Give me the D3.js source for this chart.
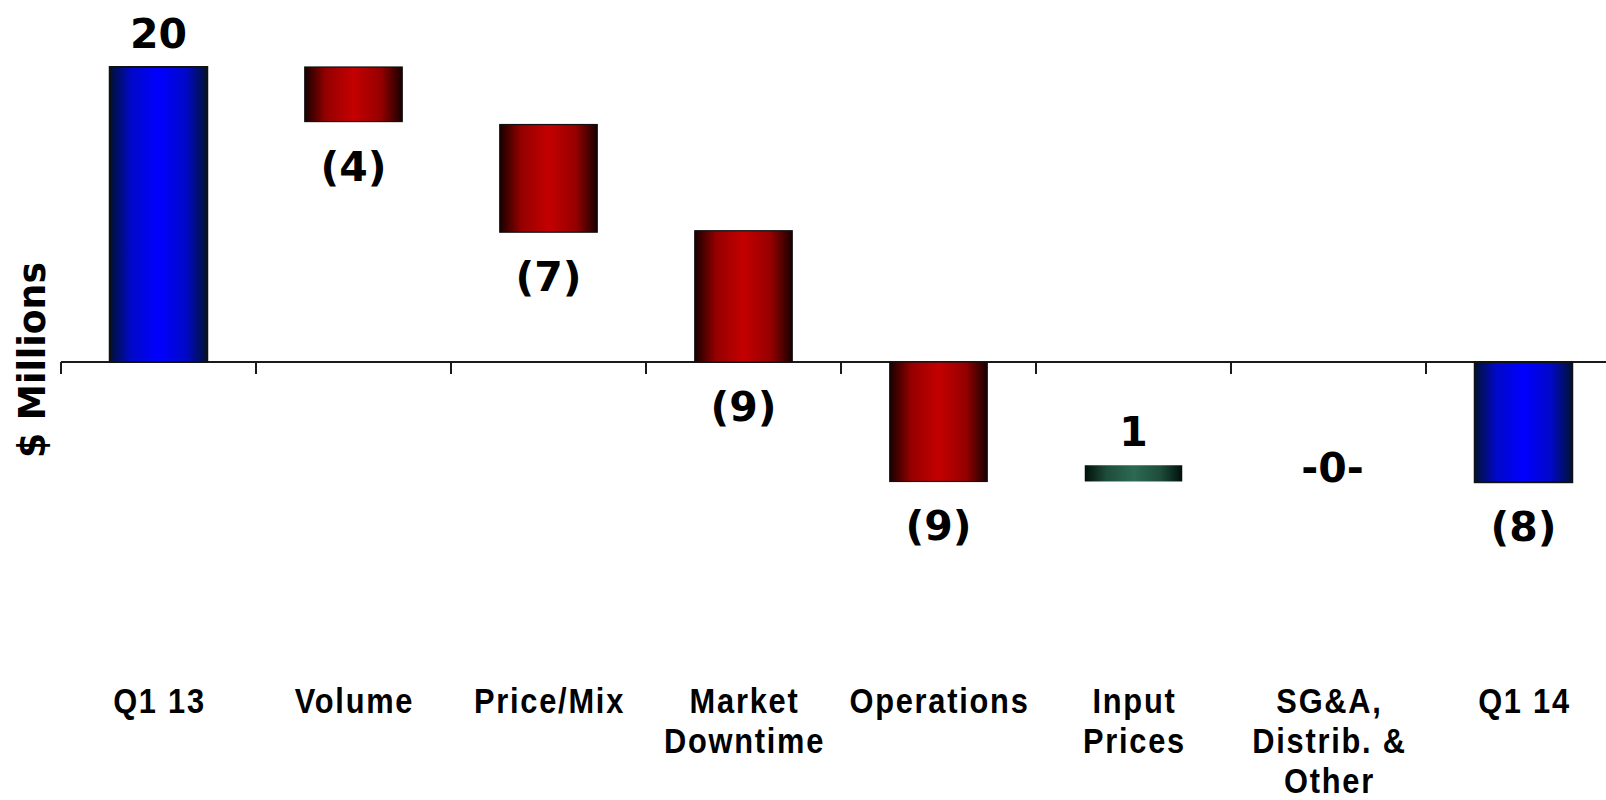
<!DOCTYPE html>
<html>
<head>
<meta charset="utf-8">
<script src="https://cdn.jsdelivr.net/npm/d3@7"></script>
<style>
  html, body { margin: 0; padding: 0; background: #fff; }
  svg { display: block; }
</style>
</head>
<body>
<svg id="chart" width="1606" height="800"></svg>
<script>
// ---- data ----
const categories = ["Q1 13", "Volume", "Price/Mix", "Market Downtime", "Operations", "Input Prices", "SG&A, Distrib. & Other", "Q1 14"];
const categoryLines = [["Q1 13"], ["Volume"], ["Price/Mix"], ["Market", "Downtime"], ["Operations"], ["Input", "Prices"], ["SG&A,", "Distrib. &", "Other"], ["Q1 14"]];
const barStart = [0, 20, 16.1, 8.9, 0, -8.1, -7.0, 0];
const barEnd   = [20, 16.3, 8.8, 0, -8.1, -7.0, -7.0, -8.15];
const barKind  = ["total", "decrease", "decrease", "decrease", "decrease", "increase", "none", "total"];
const valueLabels = ["20", "(4)", "(7)", "(9)", "(9)", "1", "-0-", "(8)"];
const yAxisTitle = "$ Millions";

// ---- drawing ----
const svg = d3.select("#chart");
const defs = svg.append("defs");

function grad(id, edge, mid, center) {
  const g = defs.append("linearGradient").attr("id", id)
    .attr("x1", "0%").attr("x2", "100%").attr("y1", "0%").attr("y2", "0%");
  [[0, edge], [0.22, mid], [0.5, center], [0.78, mid], [1, edge]].forEach(([o, c]) =>
    g.append("stop").attr("offset", o).attr("stop-color", c));
}
grad("g-total", "#001232", "#0008c8", "#0000ff");
grad("g-decrease", "#180000", "#960000", "#c40000");
grad("g-increase", "#00100a", "#1d4c3a", "#2c6a52");

const x = d3.scaleBand().domain(categories).range([61, 1621]).paddingInner(0.5).paddingOuter(0.25);
const y = d3.scaleLinear().domain([-20, 20]).range([657, 67]);

// axis line + ticks at band boundaries
const step = x.step();
const boundaries = d3.range(categories.length).map(i => x.range()[0] + i * step);
svg.append("line")
  .attr("x1", x.range()[0]).attr("x2", 1606)
  .attr("y1", y(0)).attr("y2", y(0))
  .attr("stroke", "#1a1a1a").attr("stroke-width", 2);
svg.selectAll("line.tick").data(boundaries).enter().append("line")
  .attr("class", "tick")
  .attr("x1", d => d).attr("x2", d => d)
  .attr("y1", y(0)).attr("y2", y(0) + 12)
  .attr("stroke", "#1a1a1a").attr("stroke-width", 2);

// bars
const data = categories.map((c, i) => ({ c, s: barStart[i], e: barEnd[i], k: barKind[i], lab: valueLabels[i], lines: categoryLines[i] }));
svg.selectAll("rect.bar").data(data.filter(d => d.k !== "none")).enter().append("rect")
  .attr("class", "bar")
  .attr("x", d => x(d.c))
  .attr("width", x.bandwidth())
  .attr("y", d => y(Math.max(d.s, d.e)))
  .attr("height", d => Math.abs(y(d.s) - y(d.e)))
  .attr("fill", d => `url(#g-${d.k})`)
  .attr("stroke", d => d.k === "increase" ? "none" : "#111")
  .attr("stroke-width", d => d.k === "total" ? 2 : 1.2);

// value labels
svg.selectAll("text.val").data(data).enter().append("text")
  .attr("class", "val")
  .attr("x", d => x(d.c) + x.bandwidth() / 2 + (d.k === "none" ? 4 : 0))
  .attr("y", d => {
    if (d.k === "none") return y(d.e) + 17;
    const up = d.e > d.s;
    if (up) return y(Math.max(d.s, d.e)) - 19;
    return y(Math.min(d.s, d.e)) + 59;
  })
  .attr("text-anchor", "middle")
  .attr("font-family", "'DejaVu Sans', Verdana, sans-serif")
  .attr("font-weight", "bold")
  .attr("font-size", 41)
  .attr("fill", "#000")
  .text(d => d.lab);

// category labels (narrow bold look)
const cat = svg.selectAll("g.cat").data(data).enter().append("g")
  .attr("class", "cat")
  .attr("transform", d => `translate(${x(d.c) + x.bandwidth() / 2 + 1},713) scale(0.88,1)`);
cat.each(function(d) {
  const g = d3.select(this);
  d.lines.forEach((ln, j) => {
    g.append("text")
      .attr("y", j * 40)
      .attr("text-anchor", "middle")
      .attr("font-family", "'Liberation Sans', Arial, sans-serif")
      .attr("font-weight", "bold")
      .attr("font-size", 35)
      .attr("letter-spacing", 2)
      .attr("fill", "#000")
      .text(ln);
  });
});

// y axis title
svg.append("text")
  .attr("transform", `translate(45,360) rotate(-90)`)
  .attr("text-anchor", "middle")
  .attr("font-family", "'DejaVu Sans', Verdana, sans-serif")
  .attr("font-weight", "bold")
  .attr("font-size", 37)
  .attr("textLength", 196)
  .attr("lengthAdjust", "spacingAndGlyphs")
  .attr("fill", "#000")
  .text(yAxisTitle);
</script>
</body>
</html>
